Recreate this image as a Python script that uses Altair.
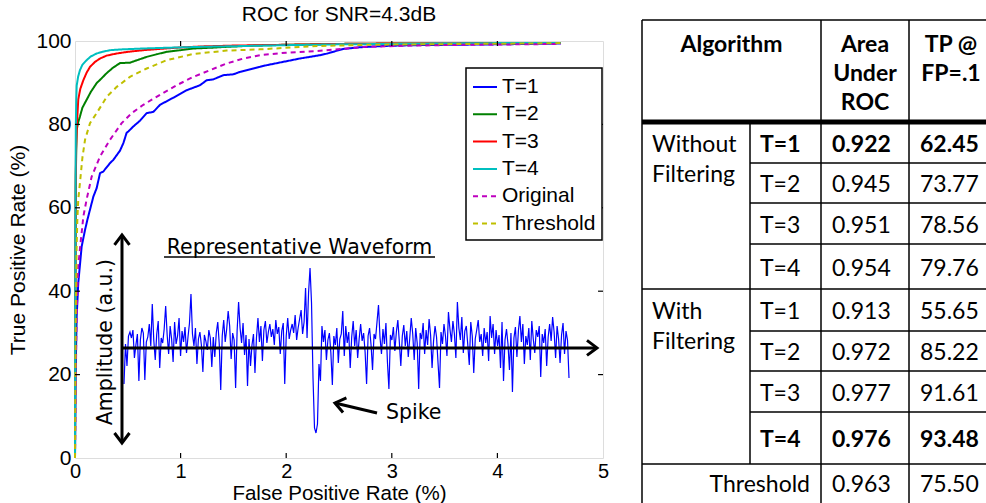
import altair as alt
import pandas as pd

FONT = "Liberation Sans"
INSET_FONT = "DejaVu Sans"
TABLE_FONT = "Lato"

# ---------------- ROC curves ----------------
chart_title = "ROC for SNR=4.3dB"
series_names = ["T=1", "T=2", "T=3", "T=4", "Original", "Threshold"]
series_colors = ["#0000FF", "#008000", "#FF0000", "#00BFBF", "#BF00BF", "#BFBF00"]
series_dashes = [[1, 0], [1, 0], [1, 0], [1, 0], [5, 4], [5, 4]]

t1_fpr = [0, 0.003, 0.006, 0.01, 0.016, 0.031, 0.063, 0.095, 0.117, 0.174, 0.205, 0.237, 0.268,
          0.331, 0.363, 0.426, 0.458, 0.489, 0.505, 0.552, 0.616, 0.679, 0.742, 0.805, 0.931,
          1.058, 1.184, 1.247, 1.31, 1.405, 1.499, 1.563, 1.689, 1.75, 1.815, 1.973, 2.13, 2.32,
          2.39, 2.54, 2.7, 2.92, 3.2, 3.6, 4.0, 4.3, 4.6]
t1_tpr = [0, 10, 20, 26, 34, 42, 50.7, 54.7, 57.1, 62.7, 64.7, 68.3, 68.7,
          70.7, 71.5, 73.7, 75.5, 78.0, 78.3, 79.5, 80.9, 82.7, 83.0, 84.7, 86.4,
          88.2, 89.4, 90.6, 90.8, 91.8, 92.0, 92.6, 93.4, 93.8, 94.2, 95.0, 95.8, 96.6,
          97.0, 98.1, 98.5, 98.8, 99.0, 99.1, 99.2, 99.3, 99.4]

t2_fpr = [0, 0.002, 0.004, 0.006, 0.008, 0.012, 0.016, 0.03, 0.047, 0.07, 0.11, 0.15, 0.205,
          0.25, 0.30, 0.36, 0.426, 0.52, 0.6, 0.679, 0.77, 0.868, 1.0, 1.12, 1.3, 1.436, 1.7,
          2.0, 2.5, 3.0, 3.5, 4.0, 4.6]
t2_tpr = [0, 20, 40, 55, 68, 74, 78.7, 80.5, 81.9, 84, 85.9, 87.8, 89.9,
          91.0, 92.3, 93.6, 94.7, 94.8, 95.5, 96.2, 96.8, 97.4, 97.8, 98.2, 98.4, 98.6, 98.9,
          99.1, 99.3, 99.4, 99.4, 99.5, 99.5]

t3_fpr = [0, 0.002, 0.004, 0.006, 0.01, 0.018, 0.031, 0.05, 0.079, 0.11, 0.142, 0.19, 0.237,
          0.3, 0.395, 0.5, 0.647, 0.8, 0.963, 1.2, 1.5, 2.0, 2.5, 3.0, 3.5, 4.0, 4.6]
t3_tpr = [0, 25, 50, 65, 74, 80, 86.0, 88.5, 90.6, 92.4, 93.8, 95.0, 95.8,
          96.5, 97.0, 97.4, 97.8, 98.1, 98.4, 98.7, 98.9, 99.1, 99.3, 99.4, 99.4, 99.5, 99.5]

t4_fpr = [0, 0.002, 0.004, 0.006, 0.008, 0.012, 0.016, 0.03, 0.047, 0.07, 0.11, 0.15, 0.205,
          0.26, 0.331, 0.45, 0.647, 0.9, 1.2, 1.6, 2.0, 2.5, 3.0, 3.5, 4.0, 4.6]
t4_tpr = [0, 30, 55, 70, 80, 86, 89.3, 91.5, 93.0, 94.3, 95.4, 96.3, 97.0,
          97.4, 97.8, 98.0, 98.2, 98.4, 98.6, 98.8, 99.0, 99.2, 99.3, 99.4, 99.5, 99.5]

orig_fpr = [0, 0.004, 0.008, 0.012, 0.016, 0.022, 0.031, 0.05, 0.063, 0.079, 0.11, 0.158, 0.237,
            0.331, 0.442, 0.537, 0.647, 0.805, 0.963, 1.12, 1.278, 1.436, 1.594, 1.75, 2.0,
            2.29, 2.75, 3.2, 3.7, 4.2, 4.6]
orig_tpr = [0, 10, 20, 28, 34, 40, 46, 51, 54, 57.9, 62, 67.5, 72.3,
            76.3, 80.3, 82.7, 84.7, 87.1, 89.4, 91.4, 93.0, 94.6, 95.8, 96.6, 97.2,
            97.6, 98.6, 98.9, 99.1, 99.2, 99.3]

thr_fpr = [0, 0.003, 0.006, 0.01, 0.015, 0.022, 0.031, 0.047, 0.07, 0.095, 0.142, 0.205, 0.30,
           0.395, 0.52, 0.679, 0.868, 1.12, 1.436, 1.75, 2.3, 2.8, 3.3, 3.8, 4.3, 4.6]
thr_tpr = [0, 15, 30, 40, 50, 57, 62, 66, 72, 76.3, 80.3, 82.7, 86.6,
           89.0, 91.4, 93.4, 95.4, 96.9, 97.7, 98.0, 98.8, 99.1, 99.2, 99.3, 99.4, 99.5]

x_ticks = [0, 1, 2, 3, 4, 5]
y_ticks = [0, 20, 40, 60, 80, 100]

# ---------------- Representative waveform (a.u.) ----------------
wave_amp = [
    -36, 4, -18, 12, 16, 10, 18, -10, 3, 14, -33, 8, 20, 15, -32, 6, 11, 24, 2, 44,
    8, -12, 14, 27, -20, 10, 5, 19, 42, 13, -6, 22, 9, -14, 26, 4, 12, 30, -8, 17,
    6, 21, -5, 11, 25, 54, 14, 2, 20, -16, 9, 16, 3, -24, 13, 7, -2, 18, 10, -19,
    11, -9, 15, 26, 4, -42, 12, 28, 6, 19, 37, 22, -11, 15, 8, -40, 17, 46, 20, 5,
    25, -7, 13, -38, 9, -18, 3, 14, -25, 10, 30, 6, 22, -13, 18, 27, 5, 16, 24, 11,
    19, 3, 28, 14, 21, -6, 17, 25, -36, 12, 30, 9, 18, 24, 15, 33, 8, 20, 29, 38,
    14, 26, 60, 10, 55, 80, 45, -30, -80, -85, -76, -16, -33, 22, 6, 18, -12, 8, 15, -5,
    -37, 12, 3, 20, -15, 9, 14, 37, -8, 22, 5, 16, -20, 11, 27, 2, 18, -10, 9, 24,
    7, 15, -4, -36, 12, 20, 3, -22, 14, 9, 26, 43, 11, -6, 19, 4, 25, -14, -41, 13,
    8, 21, -3, 16, 28, 6, -18, 12, 23, 2, 17, -9, 10, 30, 14, -12, 20, 5, -41, 15,
    9, 25, -6, 18, 3, 29, 13, -20, 7, 22, 11, -15, -40, 16, 4, 24, 12, -8, 36, 19,
    6, 27, 14, -10, 46, 20, 8, 31, -5, 17, 22, 3, -17, 26, 12, -25, 9, 18, 28, 6,
    14, -8, 20, 5, 16, -13, 32, 10, 24, -6, 18, 2, 13, -20, 26, -33, 8, 19, 4, -22,
    15, -44, 10, 21, -9, 17, 32, 6, 24, -16, 12, 3, 20, -12, 27, 9, -5, 18, 11, 22,
    -29, 14, 5, 19, -18, 11, 24, 7, 31, 16, -10, 22, 9, -15, 13, 25, -6, 17, 8, -30,
]

# ---------------- Table ----------------
table_header = ["Algorithm", "Area\nUnder\nROC", "TP @\nFP=.1"]
group_labels = ["Without\nFiltering", "With\nFiltering"]
t_labels = ["T=1", "T=2", "T=3", "T=4", "T=1", "T=2", "T=3", "T=4"]
area_roc = [0.922, 0.945, 0.951, 0.954, 0.913, 0.972, 0.977, 0.976]
tp_at_fp = [62.45, 73.77, 78.56, 79.76, 55.65, 85.22, 91.61, 93.48]
bold_rows = [True, False, False, False, False, False, False, True]
threshold_label = "Threshold"
threshold_area = 0.963
threshold_tp = 75.50

# ================= build frames =================
roc_rows = []
for name, fx, ty in zip(series_names,
                        [t1_fpr, t2_fpr, t3_fpr, t4_fpr, orig_fpr, thr_fpr],
                        [t1_tpr, t2_tpr, t3_tpr, t4_tpr, orig_tpr, thr_tpr]):
    for k, (a, b) in enumerate(zip(fx, ty)):
        roc_rows.append({"series": name, "fpr": a, "tpr": b, "k": k})
roc_df = pd.DataFrame(roc_rows)

# inward tick marks (MATLAB box style)
tick_len_x = 0.047
tick_len_y = 1.2
tick_rows = []
for v in x_ticks[1:-1]:
    tick_rows.append({"fpr": v, "fpr2": v, "tpr": 0, "tpr2": tick_len_y})
    tick_rows.append({"fpr": v, "fpr2": v, "tpr": 100 - tick_len_y, "tpr2": 100})
for v in y_ticks[1:-1]:
    tick_rows.append({"fpr": 0, "fpr2": tick_len_x, "tpr": v, "tpr2": v})
    tick_rows.append({"fpr": 5 - tick_len_x, "fpr2": 5, "tpr": v, "tpr2": v})
tick_df = pd.DataFrame(tick_rows)

x_axis = alt.Axis(values=x_ticks, format="d", grid=False, domain=False, ticks=False, tickSize=0,
                  labelPadding=3, labelFont=FONT, labelFontSize=20, labelColor="black",
                  labelFlush=False, labelOverlap=False,
                  titleFont=FONT, titleFontSize=20.5, titleFontWeight="normal", titleColor="black",
                  titleX=264, titleY=35, titleBaseline="middle", titleAlign="center")
y_axis = alt.Axis(values=y_ticks, format="d", grid=False, domain=False, ticks=False, tickSize=0,
                  labelPadding=4, labelFont=FONT, labelFontSize=21, labelColor="black",
                  labelFlush=False, labelOverlap=False,
                  titleFont=FONT, titleFontSize=21, titleFontWeight="normal", titleColor="black",
                  titleAngle=270, titleX=-57, titleY=208.5, titleBaseline="middle", titleAlign="center")

roc_xs = alt.Scale(domain=[0, 5], nice=False, zero=False)
roc_ys = alt.Scale(domain=[0, 100], nice=False, zero=False)


def RX(axis):
    return alt.X("fpr:Q", scale=roc_xs, axis=axis, title="False Positive Rate (%)")


def RY(axis):
    return alt.Y("tpr:Q", scale=roc_ys, axis=axis, title="True Positive Rate (%)")


leg = alt.Legend(title=None, orient="none", legendX=391, legendY=27, direction="vertical",
                 symbolType="stroke", symbolSize=576, symbolStrokeWidth=2,
                 labelFont=FONT, labelFontSize=21, labelColor="black", labelLimit=300, labelOffset=4,
                 padding=6, rowPadding=4.3, strokeColor="black", fillColor="white", cornerRadius=0)

curves = alt.Chart(roc_df).mark_line(strokeWidth=2).encode(
    x=RX(x_axis), y=RY(y_axis),
    color=alt.Color("series:N", scale=alt.Scale(domain=series_names, range=series_colors), legend=leg),
    strokeDash=alt.StrokeDash("series:N", scale=alt.Scale(domain=series_names, range=series_dashes), legend=leg),
    order="k:Q",
)
ticks = alt.Chart(tick_df).mark_rule(color="black", strokeWidth=1.2).encode(
    x=RX(x_axis), x2="fpr2:Q", y=RY(y_axis), y2="tpr2:Q")
roc_group = alt.layer(curves, ticks)

# ---- waveform inset (own scales) ----
wave_df = pd.DataFrame({"sample": list(range(len(wave_amp))), "amp": wave_amp})
wave = alt.Chart(wave_df).mark_line(color="#0000FF", strokeWidth=1.2).encode(
    x=alt.X("sample:Q", scale=alt.Scale(domain=[0, len(wave_amp) - 1], range=[49, 494], nice=False, zero=False), axis=None),
    y=alt.Y("amp:Q", scale=alt.Scale(domain=[-100, 100], range=[407, 207], nice=False, zero=False), axis=None),
)

# ---- annotations (placed in ROC data coordinates) ----
arrow_df = pd.DataFrame([
    {"fpr": 0.445, "tpr": 53.5, "fpr2": 0.445, "tpr2": 3.6},     # amplitude axis arrow
    {"fpr": 0.445, "tpr": 26.4, "fpr2": 4.943, "tpr2": 26.4},    # time axis arrow
    {"fpr": 2.86, "tpr": 10.8, "fpr2": 2.462, "tpr2": 13.2},     # spike pointer
])
head_df = pd.DataFrame([
    {"fpr": 0.445, "tpr": 53.5, "ang": 0},
    {"fpr": 0.445, "tpr": 3.6, "ang": 180},
    {"fpr": 4.943, "tpr": 26.4, "ang": 90},
    {"fpr": 2.462, "tpr": 13.2, "ang": 283},
])
underline_df = pd.DataFrame([{"fpr": 0.843, "fpr2": 3.409, "tpr": 48.2}])
title_df = pd.DataFrame([{"fpr": 2.126, "tpr": 50.4, "label": "Representative Waveform"}])
amp_df = pd.DataFrame([{"fpr": 0.29, "tpr": 27.8, "label": "Amplitude (a.u.)"}])
spike_df = pd.DataFrame([{"fpr": 2.945, "tpr": 10.8, "label": "Spike"}])
chart_title_df = pd.DataFrame([{"fpr": 2.5, "tpr": 106.3, "label": chart_title}])

a_arrows = alt.Chart(arrow_df).mark_rule(color="black", strokeWidth=3).encode(
    x=RX(None), x2="fpr2:Q", y=RY(None), y2="tpr2:Q")
a_heads = alt.Chart(head_df).mark_point(shape="M-0.75,1L0,0L0.75,1", filled=False, color="black",
                                        strokeWidth=3, size=400, opacity=1).encode(
    x=RX(None), y=RY(None), angle=alt.Angle("ang:Q", scale=None))
a_under = alt.Chart(underline_df).mark_rule(color="black", strokeWidth=1.5).encode(
    x=RX(None), x2="fpr2:Q", y=RY(None))
a_title = alt.Chart(title_df).mark_text(font=INSET_FONT, fontSize=20.5, color="black",
                                        align="center", baseline="middle").encode(
    x=RX(None), y=RY(None), text="label:N")
a_amp = alt.Chart(amp_df).mark_text(font=INSET_FONT, fontSize=20.5, color="black", angle=270,
                                    align="center", baseline="middle").encode(
    x=RX(None), y=RY(None), text="label:N")
a_spike = alt.Chart(spike_df).mark_text(font=INSET_FONT, fontSize=20.5, color="black",
                                        align="left", baseline="middle").encode(
    x=RX(None), y=RY(None), text="label:N")
a_chart_title = alt.Chart(chart_title_df).mark_text(font=FONT, fontSize=21, color="black",
                                                    align="center", baseline="middle").encode(
    x=RX(None), y=RY(None), text="label:N")
ann_group = alt.layer(a_arrows, a_heads, a_under, a_title, a_amp, a_spike, a_chart_title)

# ---- table (own scales, table-local layout in px) ----
col_edges = [0, 108, 179, 267, 351]
row_edges = [0, 102, 143, 183, 224, 269, 311, 351, 392, 444, 486]
tab_xs = alt.Scale(domain=[0, 351], range=[567, 918], nice=False, zero=False)
tab_ys = alt.Scale(domain=[0, 486], range=[-21, 465], nice=False, zero=False)

full_w = col_edges[-1]
lines = [
    {"x": 0, "x2": full_w, "y": 0, "y2": 0, "w": 1.5},
    {"x": 0, "x2": full_w, "y": row_edges[1], "y2": row_edges[1], "w": 5},
    {"x": 0, "x2": full_w, "y": row_edges[5], "y2": row_edges[5], "w": 1.5},
    {"x": 0, "x2": full_w, "y": row_edges[9], "y2": row_edges[9], "w": 1.5},
]
for r in [2, 3, 4, 6, 7, 8]:
    lines.append({"x": col_edges[1], "x2": full_w, "y": row_edges[r], "y2": row_edges[r], "w": 1.5})
for c in [0, 2, 3]:
    lines.append({"x": col_edges[c], "x2": col_edges[c], "y": 0, "y2": row_edges[-1], "w": 1.5})
lines.append({"x": col_edges[1], "x2": col_edges[1], "y": row_edges[1], "y2": row_edges[9], "w": 1.5})
lines_df = pd.DataFrame(lines)

header_y0 = 25
header_lh = 29
texts = []
for ci, h in enumerate(table_header):
    span = (col_edges[0], col_edges[2]) if ci == 0 else (col_edges[ci + 1], col_edges[ci + 2])
    for li, part in enumerate(h.split("\n")):
        texts.append({"x": (span[0] + span[1]) / 2, "y": header_y0 + li * header_lh,
                      "t": part, "kind": "header"})


def row_center(i):
    return (row_edges[i + 1] + row_edges[i + 2]) / 2 + 2


for gi, g in enumerate(group_labels):
    for li, part in enumerate(g.split("\n")):
        texts.append({"x": 10, "y": row_center(gi * 4) + li * 30, "t": part, "kind": "body"})
for i in range(len(t_labels)):
    kind = "bold" if bold_rows[i] else "body"
    yc = row_center(i)
    texts.append({"x": 118, "y": yc, "t": t_labels[i], "kind": kind})
    texts.append({"x": 190, "y": yc, "t": f"{area_roc[i]:.3f}", "kind": kind})
    texts.append({"x": 278, "y": yc, "t": f"{tp_at_fp[i]:.2f}", "kind": kind})
yth = (row_edges[9] + row_edges[10]) / 2
texts.append({"x": 168, "y": yth, "t": threshold_label, "kind": "right"})
texts.append({"x": 190, "y": yth, "t": f"{threshold_area:.3f}", "kind": "body"})
texts.append({"x": 278, "y": yth, "t": f"{threshold_tp:.2f}", "kind": "body"})
text_df = pd.DataFrame(texts)


def TX():
    return alt.X("x:Q", scale=tab_xs, axis=None)


def TY():
    return alt.Y("y:Q", scale=tab_ys, axis=None)


t_lines = alt.Chart(lines_df).mark_rule(color="black").encode(
    x=TX(), x2="x2:Q", y=TY(), y2="y2:Q", strokeWidth=alt.StrokeWidth("w:Q", scale=None))


def tlayer(kind, align, weight):
    return alt.Chart(text_df).transform_filter(alt.datum.kind == kind).mark_text(
        font=TABLE_FONT, fontSize=23, color="black", align=align, baseline="middle",
        fontWeight=weight).encode(x=TX(), y=TY(), text="t:N")


table_group = alt.layer(
    t_lines,
    tlayer("header", "center", "bold"),
    tlayer("body", "left", "normal"),
    tlayer("bold", "left", "bold"),
    tlayer("right", "right", "normal"),
)

chart = alt.layer(roc_group, wave, ann_group, table_group).resolve_scale(
    x="independent", y="independent"
).properties(
    width=528, height=417,
    autosize=alt.AutoSizeParams(type="none"),
    padding={"left": 75, "top": 41, "right": 383, "bottom": 45},
).configure_view(stroke="black", strokeWidth=2).configure(
    background="white"
).configure_legend(strokeWidth=1.5)

chart.save("out.html", embed_options={"renderer": "svg", "actions": False})
